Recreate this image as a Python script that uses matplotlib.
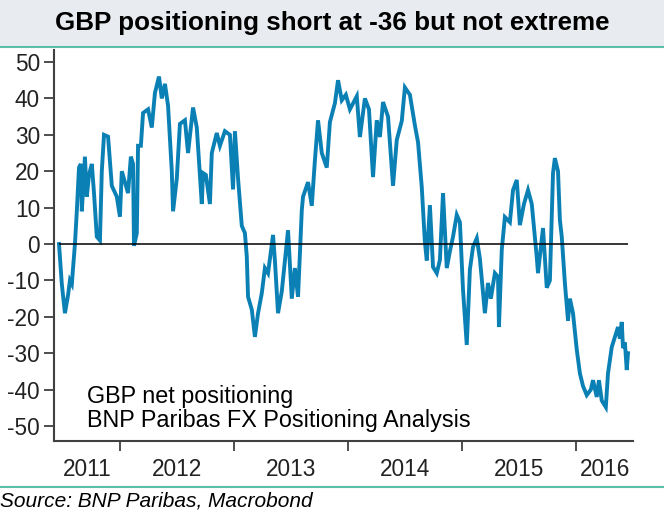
import matplotlib
matplotlib.use("Agg")
import matplotlib.pyplot as plt
import matplotlib.dates as mdates
from matplotlib.patches import Rectangle
from matplotlib.lines import Line2D
from datetime import datetime

# GBP net positioning
fechas = [
    "2011-06-20", "2011-06-29", "2011-07-09", "2011-07-19", "2011-07-25", "2011-07-31",
    "2011-08-10", "2011-08-16", "2011-08-23", "2011-08-29", "2011-09-01", "2011-09-11",
    "2011-09-17", "2011-09-24", "2011-10-03", "2011-10-10", "2011-10-19", "2011-10-29",
    "2011-11-04", "2011-11-11", "2011-11-24", "2011-12-06", "2011-12-22", "2012-01-01",
    "2012-01-07", "2012-01-17", "2012-01-27", "2012-02-05", "2012-02-12", "2012-02-15",
    "2012-02-24", "2012-02-28", "2012-03-08", "2012-03-15", "2012-03-31", "2012-04-12",
    "2012-04-22", "2012-05-05", "2012-05-14", "2012-05-24", "2012-06-03", "2012-06-15",
    "2012-06-19", "2012-07-01", "2012-07-11", "2012-07-27", "2012-08-06", "2012-08-22",
    "2012-09-03", "2012-09-19", "2012-09-23", "2012-10-02", "2012-10-15", "2012-10-21",
    "2012-11-06", "2012-11-16", "2012-12-02", "2012-12-18", "2012-12-28", "2013-01-03",
    "2013-01-13", "2013-01-25", "2013-02-04", "2013-02-10", "2013-02-14", "2013-02-26",
    "2013-03-08", "2013-03-18", "2013-03-30", "2013-04-09", "2013-04-19", "2013-05-05",
    "2013-05-11", "2013-05-21", "2013-06-02", "2013-06-12", "2013-06-22", "2013-07-04",
    "2013-07-14", "2013-07-24", "2013-08-05", "2013-08-09", "2013-08-25", "2013-09-06",
    "2013-09-16", "2013-09-26", "2013-10-08", "2013-10-24", "2013-11-03", "2013-11-19",
    "2013-11-29", "2013-12-11", "2013-12-24", "2014-01-06", "2014-01-28", "2014-02-07",
    "2014-02-23", "2014-03-08", "2014-03-21", "2014-04-02", "2014-04-12", "2014-04-22",
    "2014-05-08", "2014-05-24", "2014-06-05", "2014-06-21", "2014-07-01", "2014-07-17",
    "2014-08-02", "2014-08-12", "2014-08-24", "2014-09-03", "2014-09-09", "2014-09-19",
    "2014-09-29", "2014-10-11", "2014-10-21", "2014-10-31", "2014-11-12", "2014-11-22",
    "2014-12-02", "2014-12-14", "2014-12-24", "2015-01-03", "2015-01-15", "2015-01-25",
    "2015-02-04", "2015-02-16", "2015-02-26", "2015-03-14", "2015-03-24", "2015-04-02",
    "2015-04-15", "2015-04-25", "2015-04-28", "2015-05-07", "2015-05-17", "2015-06-02",
    "2015-06-12", "2015-06-24", "2015-07-04", "2015-07-17", "2015-07-30", "2015-08-11",
    "2015-08-27", "2015-08-31", "2015-09-16", "2015-09-28", "2015-10-08", "2015-10-18",
    "2015-10-24", "2015-11-03", "2015-11-09", "2015-11-15", "2015-11-25", "2015-12-05",
    "2015-12-11", "2015-12-21", "2016-01-02", "2016-01-12", "2016-01-22", "2016-02-03",
    "2016-02-16", "2016-02-23", "2016-03-06", "2016-03-13", "2016-03-22", "2016-04-04",
    "2016-04-11", "2016-04-23", "2016-05-03", "2016-05-13", "2016-05-19", "2016-05-25",
    "2016-05-29", "2016-06-04", "2016-06-10", "2016-06-14",
]
posiciones = [
    0, -11, -19, -14, -10, -11,
    0, 9, 21, 22, 9, 24,
    13, 19, 22, 14, 2, 1,
    20, 30, 29.5, 16, 13, 7.5,
    20, 17, 14, 24, 22, -0.5,
    3, 27, 27, 36, 37, 32,
    41.5, 46, 40, 44, 38, 20,
    9, 18, 33, 34, 25, 37.5,
    32, 11, 19.5, 19, 11, 25,
    30.5, 27, 31, 30, 15, 31,
    18, 5, 3, -3.5, -14.5, -18,
    -25.5, -19, -13.5, -6.6, -8, 2.5,
    -4.6, -19, -13, -4.6, 3.8, -15,
    -6.6, -14.5, 9.3, 13, 17, 10.5,
    23, 34, 25, 21, 33.5, 38.7,
    45, 39.5, 41, 37, 40.6, 29.4,
    40, 37, 18.4, 34, 29.4, 39,
    35, 16, 28.6, 33.8, 43, 41,
    32.6, 28, 15.6, 0.5, -4.5, 10.7,
    -6.3, -8, -4.4, 14, -6.6, -2,
    2, 8, 6, -12.6, -27.7, -7,
    -0.8, 1.6, -4, -19, -10.7, -15,
    -8, -9, -22.8, -1.6, 7.4, 6,
    14.8, 17.6, 5.2, 11, 14.8, 11,
    -3.6, -8, 4.4, -12, -10, 19.5,
    23.6, 20, 6.6, 2, -10.7, -21,
    -15, -19, -29, -35.5, -39, -41.5,
    -40, -37.4, -42, -37.4, -43, -44.8,
    -35.5, -28.3, -25.5, -22.8, -26, -21.4,
    -28.6, -27, -34.6, -30,
]
años = [2011, 2012, 2013, 2014, 2015, 2016]
yticks = list(range(-50, 51, 10))

fechas = [datetime.strptime(f, "%Y-%m-%d") for f in fechas]
x_ini = datetime(2011, 6, 4)
x_fin = datetime(2016, 6, 30)

fig = plt.figure(figsize=(6.64, 5.16), dpi=100)

# Banda del título y líneas verdes
fig.patches.append(Rectangle((0, 1 - 47 / 516), 1, 47 / 516, transform=fig.transFigure,
                             facecolor="#e8ebef", edgecolor="none", zorder=0))
fig.lines.append(Line2D([0, 1], [1 - 47 / 516] * 2, transform=fig.transFigure,
                        color="#5bbfa8", linewidth=1.5))
fig.lines.append(Line2D([0, 1], [1 - 487 / 516] * 2, transform=fig.transFigure,
                        color="#5bbfa8", linewidth=1.5))
fig.text(0.5, 1 - 23 / 516, "GBP positioning short at -36 but not extreme",
         ha="center", va="center", fontsize=18.7, fontweight="bold",
         family=["Liberation Sans"])
fig.text(0.0, 1 - 501 / 516, "Source: BNP Paribas, Macrobond", ha="left", va="center",
         fontsize=15, style="italic", family=["Liberation Sans"])

ax = fig.add_axes([54 / 664, 1 - 441 / 516, (633 - 54) / 664, (441 - 50) / 516])
ax.plot(fechas, posiciones, color="#0b80b5", linewidth=2.8, solid_joinstyle="miter")
ax.hlines(0, fechas[0], fechas[-1], color="black", linewidth=1.1, zorder=3)

ax.set_xlim(x_ini, x_fin)
ax.set_ylim(-54.1, 53.3)
ax.set_yticks(yticks)
ax.set_yticklabels([str(v) for v in yticks])

# Ticks en el inicio de cada año, etiquetas centradas en la parte visible del año
ax.set_xticks([datetime(a, 1, 1) for a in años[1:]])
ax.set_xticklabels([])
centros = []
for a in años:
    ini = max(datetime(a, 1, 1), x_ini)
    fin = min(datetime(a + 1, 1, 1), x_fin)
    centros.append(ini + (fin - ini) / 2)
ax.set_xticks(centros, minor=True)
ax.set_xticklabels([str(a) for a in años], minor=True)
ax.tick_params(axis="x", which="minor", length=0, pad=12)
ax.tick_params(axis="x", which="major", length=7, width=1.3, color="#404040")
ax.tick_params(axis="y", length=7, width=1.3, color="#404040", pad=3)
for lab in ax.get_xticklabels(minor=True) + ax.get_yticklabels():
    lab.set_fontsize(16.3)
    lab.set_family(["Liberation Sans"])
    lab.set_color("#222222")

for s in ["top", "right"]:
    ax.spines[s].set_visible(False)
for s in ["left", "bottom"]:
    ax.spines[s].set_color("#404040")
    ax.spines[s].set_linewidth(1.5)

ax.text((87 - 54) / (633 - 54), (441 - 397) / (441 - 50), "GBP net positioning",
        transform=ax.transAxes, fontsize=16.8, va="center", family=["Liberation Sans"])
ax.text((87 - 54) / (633 - 54), (441 - 420) / (441 - 50), "BNP Paribas FX Positioning Analysis",
        transform=ax.transAxes, fontsize=16.8, va="center", family=["Liberation Sans"])

fig.savefig("out.png", dpi=100)
